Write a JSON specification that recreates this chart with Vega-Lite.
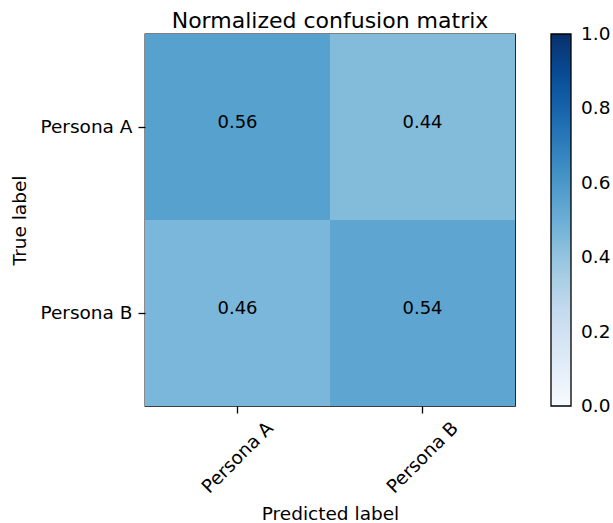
{
  "$schema": "https://vega.github.io/schema/vega-lite/v6.json",
  "width": 370,
  "height": 372,
  "autosize": {"type": "none"},
  "padding": {"left": 145, "top": 34, "right": 98, "bottom": 117},
  "background": "white",
  "config": {
    "font": "DejaVu Sans",
    "view": {"stroke": "black", "strokeWidth": 1.3},
    "axis": {
      "grid": false,
      "domain": false,
      "ticks": true,
      "tickSize": 7,
      "tickWidth": 1.3,
      "tickColor": "black",
      "labelFontSize": 18.5,
      "labelColor": "black",
      "labelPadding": 6,
      "titleFontSize": 18.5,
      "titleFontWeight": "normal",
      "titleColor": "black"
    }
  },
  "title": {"text": "Normalized confusion matrix", "fontSize": 22, "fontWeight": "normal", "color": "black", "offset": 1},
  "data": {
    "values": [
      {"true": "Persona A", "pred": "Persona A", "value": 0.56},
      {"true": "Persona A", "pred": "Persona B", "value": 0.44},
      {"true": "Persona B", "pred": "Persona A", "value": 0.46},
      {"true": "Persona B", "pred": "Persona B", "value": 0.54}
    ]
  },
  "encoding": {
    "x": {"field": "pred", "type": "nominal", "sort": ["Persona A", "Persona B"], "title": "Predicted label",
      "axis": {"labelAngle": -45, "labelAlign": "center", "labelBaseline": "middle", "labelPadding": 44, "titlePadding": 8}},
    "y": {"field": "true", "type": "nominal", "sort": ["Persona A", "Persona B"], "title": "True label",
      "axis": {"titlePadding": 10}}
  },
  "layer": [
    {
      "mark": {"type": "rect"},
      "encoding": {
        "color": {
          "field": "value", "type": "quantitative",
          "scale": {
            "type": "linear",
            "domain": [0, 0.125, 0.25, 0.375, 0.5, 0.625, 0.75, 0.875, 1],
            "range": ["#f7fbff", "#deebf7", "#c6dbef", "#9ecae1", "#6baed6", "#4292c6", "#2171b5", "#08519c", "#08306b"],
            "interpolate": "rgb"
          },
          "legend": {
            "orient": "none", "legendX": 406, "legendY": 0, "direction": "vertical",
            "gradientLength": 372, "gradientThickness": 20, "title": null,
            "labelFontSize": 18.5, "labelColor": "black", "labelOffset": 10, "labelBaseline": "middle",
            "gradientStrokeColor": "black", "gradientStrokeWidth": 1.3,
            "values": [0, 0.2, 0.4, 0.6, 0.8, 1], "format": ".1f", "labelOverlap": false,
            "encode": {"labels": {"update": {"baseline": {"value": "middle"}}}}
          }
        }
      }
    },
    {
      "mark": {"type": "text", "fontSize": 18, "color": "black", "baseline": "middle", "dy": -4},
      "encoding": {"text": {"field": "value", "type": "quantitative", "format": ".2f"}}
    }
  ]
}
